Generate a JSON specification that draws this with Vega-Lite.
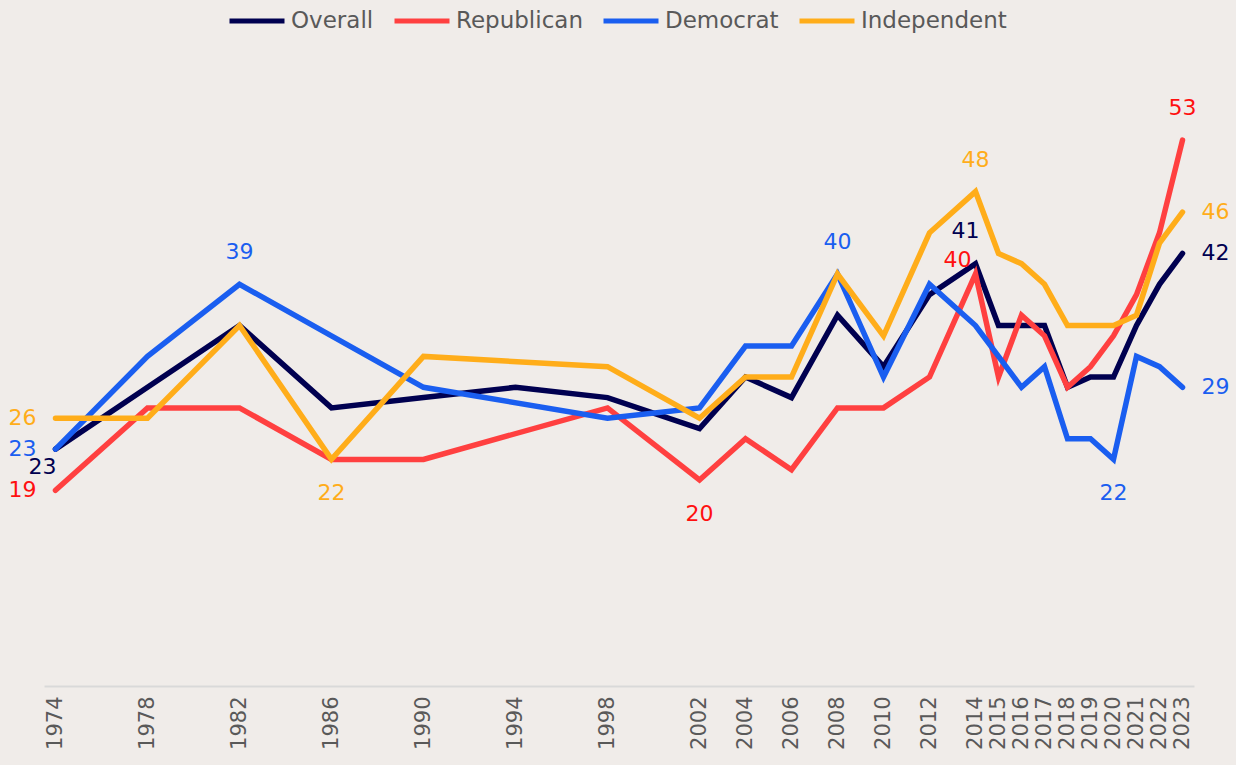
{
  "$schema": "https://vega.github.io/schema/vega-lite/v6.json",
  "width": 1150,
  "height": 618,
  "autosize": {"type": "none"},
  "padding": {"left": 44, "top": 68, "right": 42, "bottom": 79},
  "background": "#f0ece9",
  "config": {"view": {"stroke": null}, "font": "DejaVu Sans"},
  "datasets": {
    "d": [
      {"year": 1974, "series": "Overall", "value": 23},
      {"year": 1978, "series": "Overall", "value": 29},
      {"year": 1982, "series": "Overall", "value": 35},
      {"year": 1986, "series": "Overall", "value": 27},
      {"year": 1990, "series": "Overall", "value": 28},
      {"year": 1994, "series": "Overall", "value": 29},
      {"year": 1998, "series": "Overall", "value": 28},
      {"year": 2002, "series": "Overall", "value": 25},
      {"year": 2004, "series": "Overall", "value": 30},
      {"year": 2006, "series": "Overall", "value": 28},
      {"year": 2008, "series": "Overall", "value": 36},
      {"year": 2010, "series": "Overall", "value": 31},
      {"year": 2012, "series": "Overall", "value": 38},
      {"year": 2014, "series": "Overall", "value": 41},
      {"year": 2015, "series": "Overall", "value": 35},
      {"year": 2016, "series": "Overall", "value": 35},
      {"year": 2017, "series": "Overall", "value": 35},
      {"year": 2018, "series": "Overall", "value": 29},
      {"year": 2019, "series": "Overall", "value": 30},
      {"year": 2020, "series": "Overall", "value": 30},
      {"year": 2021, "series": "Overall", "value": 35},
      {"year": 2022, "series": "Overall", "value": 39},
      {"year": 2023, "series": "Overall", "value": 42},

      {"year": 1974, "series": "Republican", "value": 19},
      {"year": 1978, "series": "Republican", "value": 27},
      {"year": 1982, "series": "Republican", "value": 27},
      {"year": 1986, "series": "Republican", "value": 22},
      {"year": 1990, "series": "Republican", "value": 22},
      {"year": 1998, "series": "Republican", "value": 27},
      {"year": 2002, "series": "Republican", "value": 20},
      {"year": 2004, "series": "Republican", "value": 24},
      {"year": 2006, "series": "Republican", "value": 21},
      {"year": 2008, "series": "Republican", "value": 27},
      {"year": 2010, "series": "Republican", "value": 27},
      {"year": 2012, "series": "Republican", "value": 30},
      {"year": 2014, "series": "Republican", "value": 40},
      {"year": 2015, "series": "Republican", "value": 30},
      {"year": 2016, "series": "Republican", "value": 36},
      {"year": 2017, "series": "Republican", "value": 34},
      {"year": 2018, "series": "Republican", "value": 29},
      {"year": 2019, "series": "Republican", "value": 31},
      {"year": 2020, "series": "Republican", "value": 34},
      {"year": 2021, "series": "Republican", "value": 38},
      {"year": 2022, "series": "Republican", "value": 44},
      {"year": 2023, "series": "Republican", "value": 53},

      {"year": 1974, "series": "Democrat", "value": 23},
      {"year": 1978, "series": "Democrat", "value": 32},
      {"year": 1982, "series": "Democrat", "value": 39},
      {"year": 1986, "series": "Democrat", "value": 34},
      {"year": 1990, "series": "Democrat", "value": 29},
      {"year": 1998, "series": "Democrat", "value": 26},
      {"year": 2002, "series": "Democrat", "value": 27},
      {"year": 2004, "series": "Democrat", "value": 33},
      {"year": 2006, "series": "Democrat", "value": 33},
      {"year": 2008, "series": "Democrat", "value": 40},
      {"year": 2010, "series": "Democrat", "value": 30},
      {"year": 2012, "series": "Democrat", "value": 39},
      {"year": 2014, "series": "Democrat", "value": 35},
      {"year": 2015, "series": "Democrat", "value": 32},
      {"year": 2016, "series": "Democrat", "value": 29},
      {"year": 2017, "series": "Democrat", "value": 31},
      {"year": 2018, "series": "Democrat", "value": 24},
      {"year": 2019, "series": "Democrat", "value": 24},
      {"year": 2020, "series": "Democrat", "value": 22},
      {"year": 2021, "series": "Democrat", "value": 32},
      {"year": 2022, "series": "Democrat", "value": 31},
      {"year": 2023, "series": "Democrat", "value": 29},

      {"year": 1974, "series": "Independent", "value": 26},
      {"year": 1978, "series": "Independent", "value": 26},
      {"year": 1982, "series": "Independent", "value": 35},
      {"year": 1986, "series": "Independent", "value": 22},
      {"year": 1990, "series": "Independent", "value": 32},
      {"year": 1998, "series": "Independent", "value": 31},
      {"year": 2002, "series": "Independent", "value": 26},
      {"year": 2004, "series": "Independent", "value": 30},
      {"year": 2006, "series": "Independent", "value": 30},
      {"year": 2008, "series": "Independent", "value": 40},
      {"year": 2010, "series": "Independent", "value": 34},
      {"year": 2012, "series": "Independent", "value": 44},
      {"year": 2014, "series": "Independent", "value": 48},
      {"year": 2015, "series": "Independent", "value": 42},
      {"year": 2016, "series": "Independent", "value": 41},
      {"year": 2017, "series": "Independent", "value": 39},
      {"year": 2018, "series": "Independent", "value": 35},
      {"year": 2019, "series": "Independent", "value": 35},
      {"year": 2020, "series": "Independent", "value": 35},
      {"year": 2021, "series": "Independent", "value": 36},
      {"year": 2022, "series": "Independent", "value": 43},
      {"year": 2023, "series": "Independent", "value": 46}
    ]
  },
  "data": {"name": "d"},
  "encoding": {
    "x": {
      "field": "year",
      "type": "quantitative",
      "scale": {"domain": [1973.5, 2023.5], "nice": false, "zero": false},
      "axis": {
        "values": [1974, 1978, 1982, 1986, 1990, 1994, 1998, 2002, 2004, 2006, 2008, 2010, 2012, 2014, 2015, 2016, 2017, 2018, 2019, 2020, 2021, 2022, 2023],
        "format": "d",
        "labelAngle": -90,
        "title": null,
        "grid": false,
        "ticks": false,
        "domainColor": "#d9d9d9",
        "domainWidth": 2,
        "labelColor": "#595959",
        "labelFontSize": 21,
        "labelPadding": 10,
        "labelOverlap": false,
        "labelFlush": false,
        "labelBound": false
      }
    },
    "y": {
      "field": "value",
      "type": "quantitative",
      "scale": {"domain": [0, 60]},
      "axis": null
    },
    "color": {
      "field": "series",
      "type": "nominal",
      "scale": {
        "domain": ["Overall", "Republican", "Democrat", "Independent"],
        "range": ["#000050", "#ff4040", "#1a5ef0", "#ffad1a"]
      },
      "legend": {
        "title": null,
        "orient": "none",
        "legendX": 183,
        "legendY": -77,
        "direction": "horizontal",
        "symbolType": "stroke",
        "symbolSize": 3025,
        "symbolStrokeWidth": 5,
        "labelFontSize": 23,
        "labelColor": "#595959",
        "labelOffset": 4,
        "columnPadding": 10,
        "labelLimit": 300
      }
    }
  },
  "layer": [
    {
      "transform": [{"filter": "datum.series == 'Overall'"}],
      "mark": {"type": "line", "strokeWidth": 5.5, "strokeCap": "round", "strokeJoin": "miter"}
    },
    {
      "transform": [{"filter": "datum.series == 'Republican'"}],
      "mark": {"type": "line", "strokeWidth": 5.5, "strokeCap": "round", "strokeJoin": "miter"}
    },
    {
      "transform": [{"filter": "datum.series == 'Democrat'"}],
      "mark": {"type": "line", "strokeWidth": 5.5, "strokeCap": "round", "strokeJoin": "miter"}
    },
    {
      "transform": [{"filter": "datum.series == 'Independent'"}],
      "mark": {"type": "line", "strokeWidth": 5.5, "strokeCap": "round", "strokeJoin": "miter"}
    },
    {
      "transform": [{"filter": "datum.year == 1974 && datum.series != 'Overall'"}],
      "mark": {"type": "text", "align": "right", "baseline": "middle", "dx": -19, "fontSize": 22},
      "encoding": {
        "text": {"field": "value", "type": "quantitative"},
        "color": {"condition": {"test": "datum.series == 'Republican'", "value": "#ff1010"}, "field": "series", "type": "nominal"}
      }
    },
    {
      "transform": [{"filter": "datum.year == 1974 && datum.series == 'Overall'"}],
      "mark": {"type": "text", "align": "center", "baseline": "middle", "dx": -13, "dy": 18, "fontSize": 22},
      "encoding": {"text": {"field": "value", "type": "quantitative"}}
    },
    {
      "transform": [{"filter": "(datum.series == 'Democrat' && (datum.year == 1982 || datum.year == 2008)) || (datum.series == 'Independent' && datum.year == 2014) || (datum.series == 'Republican' && datum.year == 2023)"}],
      "mark": {"type": "text", "align": "center", "baseline": "middle", "dy": -32, "fontSize": 22},
      "encoding": {
        "text": {"field": "value", "type": "quantitative"},
        "color": {"condition": {"test": "datum.series == 'Republican'", "value": "#ff1010"}, "field": "series", "type": "nominal"}
      }
    },
    {
      "transform": [{"filter": "datum.series == 'Overall' && datum.year == 2014"}],
      "mark": {"type": "text", "align": "center", "baseline": "middle", "dx": -10, "dy": -33, "fontSize": 22},
      "encoding": {"text": {"field": "value", "type": "quantitative"}}
    },
    {
      "transform": [{"filter": "datum.series == 'Republican' && datum.year == 2014"}],
      "mark": {"type": "text", "align": "center", "baseline": "middle", "dx": -18, "dy": -14, "fontSize": 22},
      "encoding": {"text": {"field": "value", "type": "quantitative"}, "color": {"value": "#ff1010"}}
    },
    {
      "transform": [{"filter": "(datum.series == 'Republican' && datum.year == 2002) || (datum.series == 'Independent' && datum.year == 1986) || (datum.series == 'Democrat' && datum.year == 2020)"}],
      "mark": {"type": "text", "align": "center", "baseline": "middle", "dy": 34, "fontSize": 22},
      "encoding": {
        "text": {"field": "value", "type": "quantitative"},
        "color": {"condition": {"test": "datum.series == 'Republican'", "value": "#ff1010"}, "field": "series", "type": "nominal"}
      }
    },
    {
      "transform": [{"filter": "datum.year == 2023 && datum.series != 'Republican'"}],
      "mark": {"type": "text", "align": "left", "baseline": "middle", "dx": 19, "fontSize": 22},
      "encoding": {"text": {"field": "value", "type": "quantitative"}}
    }
  ]
}
